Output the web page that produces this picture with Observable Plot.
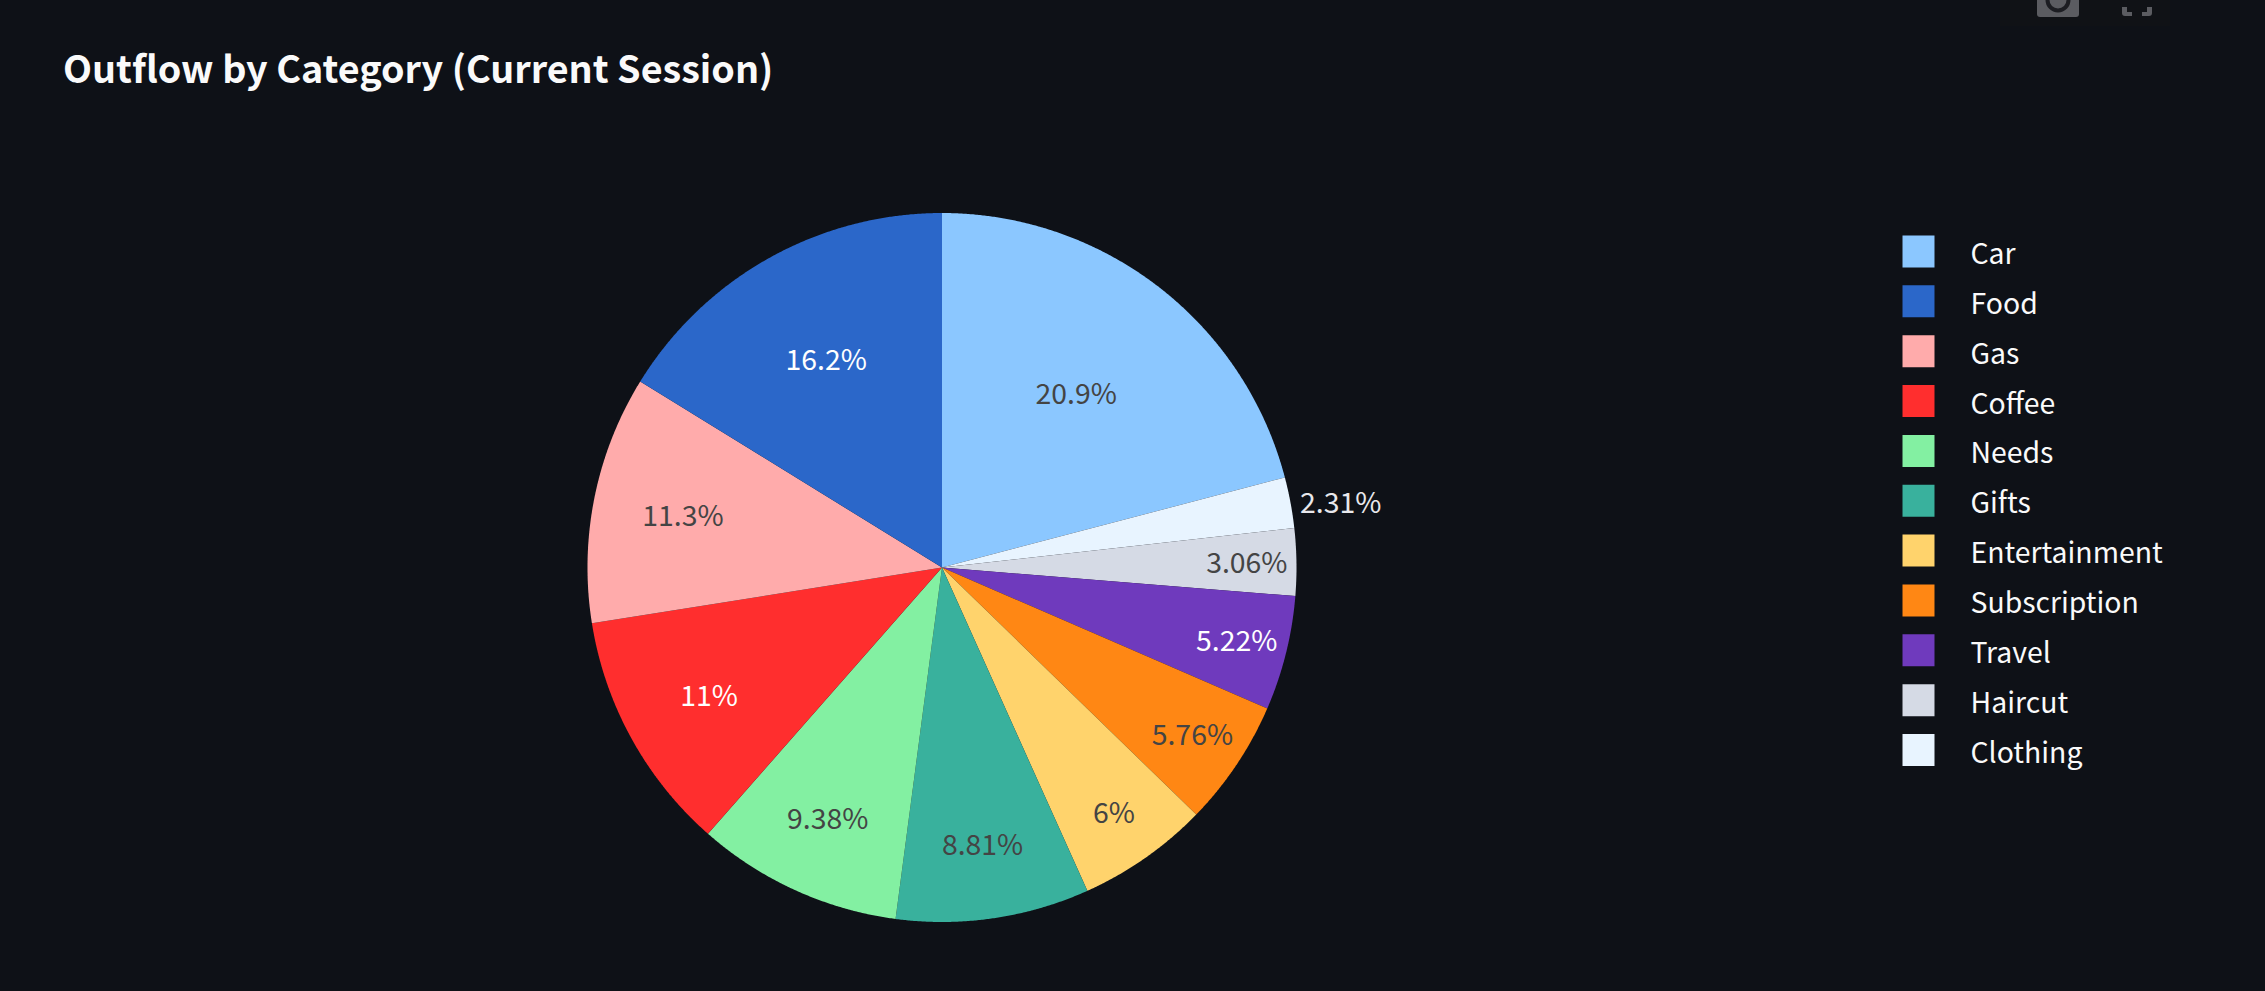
<!DOCTYPE html>
<html>
<head>
<meta charset="utf-8">
<title>Outflow by Category (Current Session)</title>
<script src="https://cdn.jsdelivr.net/npm/d3@7"></script>
<script src="https://cdn.jsdelivr.net/npm/@observablehq/plot@0.6"></script>
<style>
  html, body { margin: 0; padding: 0; background: #0e1117; overflow: hidden; width: 2265px; height: 991px; }
  body { position: relative; font-family: "Noto Sans CJK SC", "Noto Sans", sans-serif; }
  #title { position: absolute; left: 63px; top: 38px; margin: 0; color: #fafafa; font-size: 37.7px; font-weight: 700; line-height: 58px; white-space: nowrap; }
  #chart { position: absolute; left: 0; top: 0; }
  #legend { position: absolute; left: 1860px; top: 0; }
  #modebar { position: absolute; left: 2000px; top: 0; }
  svg { background: transparent; }
</style>
</head>
<body>
<h1 id="title">Outflow by Category (Current Session)</h1>
<div id="chart"></div>
<div id="legend"></div>
<svg id="modebar" width="200" height="40" aria-hidden="true">
  <rect x="0" y="0" width="170" height="26" fill="#101216"/>
  <rect x="37" y="-12" width="42" height="29" rx="3" fill="#5b5c61"/>
  <circle cx="58" cy="0" r="10.5" fill="none" stroke="#1c1d22" stroke-width="4"/>
  <path d="M122 7v6a3 3 0 0 0 3 3h7v-4h-5v-5zM152 7v6a3 3 0 0 1-3 3h-7v-4h5v-5z" fill="#5b5c61"/>
</svg>
<script>
const categories = ["Car", "Clothing", "Haircut", "Travel", "Subscription", "Entertainment", "Gifts", "Needs", "Coffee", "Gas", "Food"];
const shares = [20.9, 2.31, 3.06, 5.22, 5.76, 6, 8.81, 9.38, 11, 11.3, 16.2];
const shareLabels = ["20.9%", "2.31%", "3.06%", "5.22%", "5.76%", "6%", "8.81%", "9.38%", "11%", "11.3%", "16.2%"];
const colors = ["#8bc7ff", "#e8f4ff", "#d5dae5", "#6f3abd", "#ff8714", "#ffd36c", "#39b19d", "#83f0a2", "#ff2e2e", "#ffabab", "#2b67c9"];
const labelColors = ["#444444", "#e8e8ec", "#444444", "#ffffff", "#444444", "#444444", "#444444", "#444444", "#ffffff", "#444444", "#ffffff"];
const labelRadii = [0.62, 1.144, 0.86, 0.857, 0.85, 0.845, 0.79, 0.78, 0.75, 0.745, 0.67];
const legendOrder = ["Car", "Food", "Gas", "Coffee", "Needs", "Gifts", "Entertainment", "Subscription", "Travel", "Haircut", "Clothing"];

const W = 2265, H = 991, cx = 941.5, cy = 567, R = 354.5;
const total = d3.sum(shares);
let acc = 0;
const slices = categories.map((cat, i) => {
  const a0 = acc / total * 2 * Math.PI;
  acc += shares[i];
  const a1 = acc / total * 2 * Math.PI;
  return {cat, i, a0, a1, mid: (a0 + a1) / 2};
});
const outline = slices.flatMap(s => {
  const n = Math.ceil((s.a1 - s.a0) / 0.004);
  const arc = d3.range(n + 1).map(k => {
    const a = s.a0 + (s.a1 - s.a0) * k / n;
    return {cat: s.cat, x: Math.sin(a), y: Math.cos(a)};
  });
  return [{cat: s.cat, x: 0, y: 0}, ...arc, {cat: s.cat, x: 0, y: 0}];
});

const fontFamily = '"Noto Sans CJK SC", "Noto Sans", sans-serif';
const color = {type: "ordinal", domain: categories, range: colors};
const labelOptions = {
  x: s => Math.sin(s.mid) * labelRadii[s.i],
  y: s => Math.cos(s.mid) * labelRadii[s.i],
  text: s => shareLabels[s.i],
  fill: s => labelColors[s.i],
  fontSize: 28.4,
  textAnchor: "middle",
  lineAnchor: "middle"
};

document.getElementById("chart").append(Plot.plot({
  width: W, height: H, margin: 0,
  style: {background: "transparent", fontFamily},
  x: {domain: [-cx / R, (W - cx) / R], range: [0, W], axis: null},
  y: {domain: [cy / R, (cy - H) / R], range: [0, H], axis: null},
  color,
  marks: [
    Plot.line(outline, {x: "x", y: "y", z: "cat", fill: "cat", stroke: "none", curve: "linear"}),
    Plot.text(slices.filter(s => s.cat !== "Clothing"), {...labelOptions, dy: 1}),
    Plot.text(slices.filter(s => s.cat === "Clothing"), {...labelOptions, dy: 11})
  ]
}));

document.getElementById("legend").append(Plot.plot({
  width: W - 1860, height: H, margin: 0,
  style: {background: "transparent", fontFamily},
  x: {domain: [0, W - 1860], range: [0, W - 1860], axis: null},
  y: {type: "point", padding: 0, round: false, domain: legendOrder, range: [251, 749.5], axis: null},
  color,
  marks: [
    Plot.dot(legendOrder, {x: () => 58, y: d => d, fill: d => d, symbol: "square", r: 18.05, stroke: "none"}),
    Plot.text(legendOrder, {x: () => 110, y: d => d, text: d => d, fill: "#fafafa", fontSize: 28.4, textAnchor: "start", lineAnchor: "middle", dy: 3.5})
  ]
}));
</script>
</body>
</html>
